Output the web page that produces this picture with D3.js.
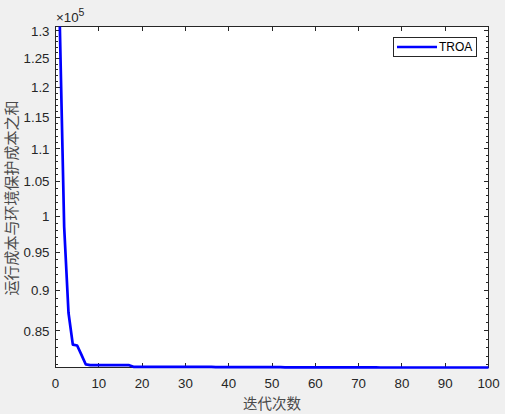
<!DOCTYPE html>
<html>
<head>
<meta charset="utf-8">
<script src="https://cdn.jsdelivr.net/npm/d3@7"></script>
<style>
  body { margin: 0; background: #f0f0f0; }
  svg { display: block; }
</style>
</head>
<body>
<script>
// iteration number and best cost found so far
var iterations = d3.range(1, 101);
var cost = [
  130800, 98500, 87200, 83350, 83250, 82150, 81050,
  80970, 80970, 80970, 80970, 80970, 80970, 80970, 80970, 80970, 80970,
  80780, 80780, 80780, 80780, 80780, 80780, 80780, 80780, 80780, 80780,
  80780, 80780, 80780, 80780, 80780, 80780, 80780, 80780, 80780,
  80740, 80740, 80740, 80740, 80740, 80740, 80740, 80740, 80740, 80740,
  80740, 80740, 80740, 80740, 80740, 80740,
  80720, 80720, 80720, 80720, 80720, 80720, 80720, 80720, 80720, 80720, 80720,
  80720, 80720, 80720, 80720, 80720, 80720, 80720, 80720, 80720, 80720, 80720,
  80700, 80700, 80700, 80700, 80700, 80700, 80700, 80700, 80700, 80700, 80700, 80700, 80700,
  80700, 80700, 80700, 80700, 80700, 80700, 80700, 80700, 80700, 80700, 80700, 80700, 80700
];
var xTicks = [0, 10, 20, 30, 40, 50, 60, 70, 80, 90, 100];
var yTicks = [0.85, 0.9, 0.95, 1, 1.05, 1.1, 1.15, 1.2, 1.25, 1.3];
var yDomain = [80700, 130800];
var seriesName = "TROA";
var xTitle = "迭代次数";
var yTitle = "运行成本与环境保护成本之和";

var w = 505, h = 414;
// plot box (window.top is read-only, so no "top" here)
var pLeft = 55.5, pRight = 488.5, pTop = 26.5, pBottom = 367.5;
var ink = "#262626";

var svg = d3.select("body").append("svg")
  .attr("width", w)
  .attr("height", h);

var x = d3.scaleLinear().domain([0, 100]).range([pLeft, pRight]);
var y = d3.scaleLog().domain(yDomain).range([pBottom, pTop]);

// white axes area
svg.append("rect")
  .attr("x", pLeft).attr("y", pTop)
  .attr("width", pRight - pLeft).attr("height", pBottom - pTop)
  .attr("fill", "#fff");

var tickFont = "'Liberation Sans', Arial, sans-serif";

// x ticks (bottom + top, pointing inward)
var gx = svg.append("g");
xTicks.forEach(function (t) {
  var px = Math.round(x(t) - 0.5) + 0.5;
  gx.append("line").attr("x1", px).attr("x2", px).attr("y1", pBottom).attr("y2", pBottom - 4.5).attr("stroke", ink);
  gx.append("line").attr("x1", px).attr("x2", px).attr("y1", pTop).attr("y2", pTop + 4.5).attr("stroke", ink);
  gx.append("text")
    .attr("x", x(t)).attr("y", 388)
    .attr("text-anchor", "middle")
    .style("font-family", tickFont).style("font-size", "13.3px")
    .attr("fill", ink)
    .text(t);
});

// y ticks, major and minor, on both sides
var minor = d3.range(81, 131).map(function (v) { return v * 1000; })
  .filter(function (v) { return v % 5000 != 0; });
var gy = svg.append("g");
minor.forEach(function (v) {
  var py = Math.round(y(v) - 0.5) + 0.5;
  gy.append("line").attr("x1", pLeft).attr("x2", pLeft + 2.5).attr("y1", py).attr("y2", py).attr("stroke", ink);
  gy.append("line").attr("x1", pRight).attr("x2", pRight - 2.5).attr("y1", py).attr("y2", py).attr("stroke", ink);
});
yTicks.forEach(function (t) {
  var py = Math.round(y(t * 1e5) - 0.5) + 0.5;
  gy.append("line").attr("x1", pLeft).attr("x2", pLeft + 4.5).attr("y1", py).attr("y2", py).attr("stroke", ink);
  gy.append("line").attr("x1", pRight).attr("x2", pRight - 4.5).attr("y1", py).attr("y2", py).attr("stroke", ink);
  gy.append("text")
    .attr("x", 49.5).attr("y", y(t * 1e5) + 4.8)
    .attr("text-anchor", "end")
    .style("font-family", tickFont).style("font-size", "13.3px")
    .attr("fill", ink)
    .text(t);
});

// exponent label
var ex = svg.append("text")
  .attr("x", 56).attr("y", 22)
  .style("font-family", tickFont).style("font-size", "13.3px")
  .attr("fill", ink);
ex.append("tspan").text("×10");
ex.append("tspan").attr("dy", -6).style("font-size", "10.5px").text("5");

// box
svg.append("rect")
  .attr("x", pLeft).attr("y", pTop)
  .attr("width", pRight - pLeft).attr("height", pBottom - pTop)
  .attr("fill", "none").attr("stroke", ink).attr("stroke-width", 1);

// series line
var line = d3.line()
  .x(function (d, i) { return x(iterations[i]); })
  .y(function (d) { return y(d); });

svg.append("path")
  .datum(cost)
  .attr("d", line)
  .attr("fill", "none")
  .attr("stroke", "#0000ff")
  .attr("stroke-width", 2.7)
  .attr("stroke-linejoin", "round");

// legend
var lg = svg.append("g");
lg.append("rect")
  .attr("x", 393.5).attr("y", 37.5).attr("width", 83).attr("height", 19)
  .attr("fill", "#fff").attr("stroke", ink);
lg.append("line")
  .attr("x1", 397).attr("x2", 437).attr("y1", 47).attr("y2", 47)
  .attr("stroke", "#0000ff").attr("stroke-width", 2.7);
lg.append("text")
  .attr("x", 439).attr("y", 51.3)
  .style("font-family", tickFont).style("font-size", "12px")
  .attr("fill", "#000")
  .text(seriesName);

// axis titles
var cjk = "'Noto Sans CJK SC', sans-serif";
svg.append("text")
  .attr("x", 272).attr("y", 409)
  .attr("text-anchor", "middle")
  .style("font-family", cjk).style("font-size", "14.5px")
  .attr("fill", "#4a4a4a")
  .text(xTitle);

svg.append("text")
  .attr("transform", "translate(17,198) rotate(-90)")
  .attr("text-anchor", "middle")
  .style("font-family", cjk).style("font-size", "15px")
  .attr("fill", "#4a4a4a")
  .text(yTitle);
</script>
</body>
</html>
